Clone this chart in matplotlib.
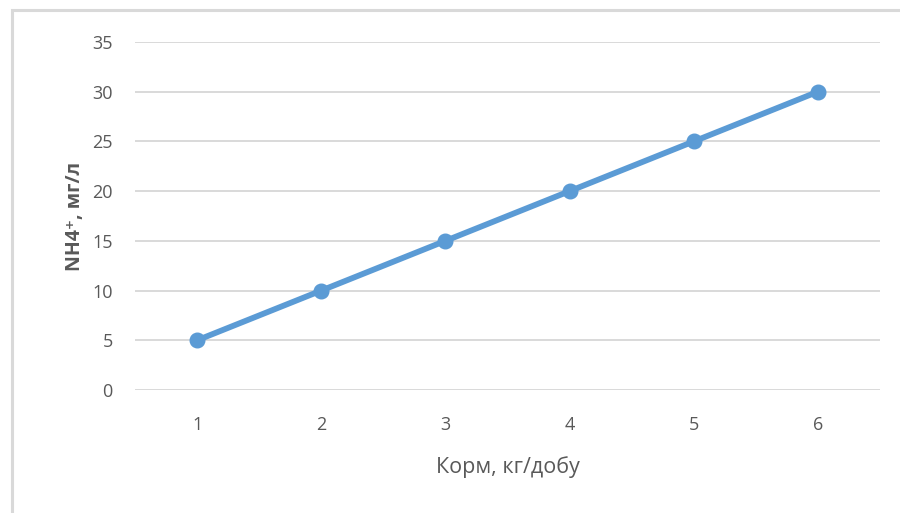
import matplotlib
matplotlib.use('Agg')
import matplotlib.pyplot as plt
from matplotlib.patches import Rectangle

# feed amount vs ammonium
feed = [1, 2, 3, 4, 5, 6]
nh4 = [5, 10, 15, 20, 25, 30]
yticks = [0, 5, 10, 15, 20, 25, 30, 35]

plt.rcParams['font.family'] = ['Open Sans', 'DejaVu Sans']
text_c = '#595959'
grid_c = '#d9d9d9'

W, H = 900, 513
fig = plt.figure(figsize=(W / 100, H / 100), dpi=100)
ax = fig.add_axes([135 / W, 1 - 390 / H, (880 - 135) / W, (390 - 42) / H])

# chart frame
fig.patches.append(Rectangle((12 / W, -0.1), 1.2, 1.1 - 10 / H,
                             transform=fig.transFigure, fill=False,
                             edgecolor=grid_c, linewidth=2.2))

ax.plot(feed, nh4, color='#5b9bd5', linewidth=4.2, marker='o',
        markersize=10.5, solid_capstyle='round', zorder=3)

ax.set_xlim(0.5, 6.5)
ax.set_ylim(0, 35)
ax.set_yticks(yticks)
ax.set_xticks(feed)
ax.grid(axis='y', color=grid_c, linewidth=1.4)
ax.set_axisbelow(True)
for s in ax.spines.values():
    s.set_visible(False)
ax.tick_params(axis='both', length=0, labelsize=13, labelcolor=text_c)
ax.tick_params(axis='y', pad=16)
ax.tick_params(axis='x', pad=19)

ax.set_xlabel('Корм, кг/добу', fontsize=15.5, color=text_c, labelpad=16)
ax.set_ylabel('NH4⁺, мг/л', fontsize=14, color=text_c, fontweight='bold',
              labelpad=5)

fig.savefig('out.png', dpi=100)
